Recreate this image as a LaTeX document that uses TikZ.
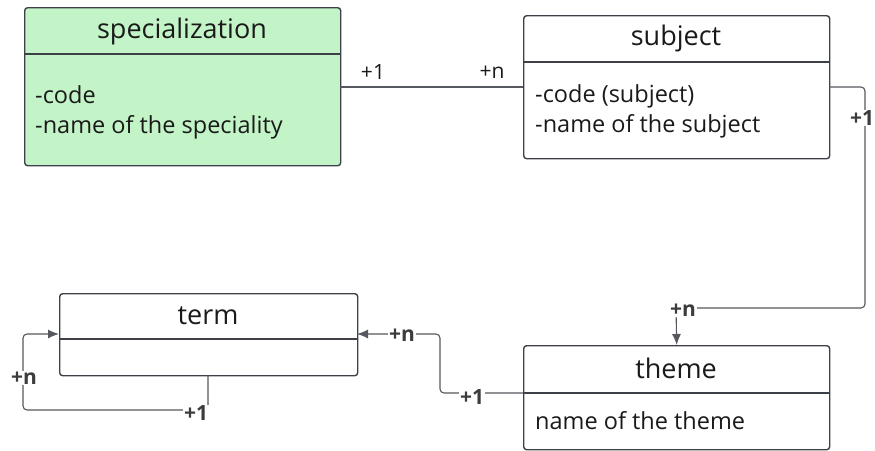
\documentclass[tikz,border=0pt]{standalone}
\usepackage{fontspec}
\setmainfont{Open Sans}
\usetikzlibrary{arrows.meta}
\definecolor{bordercol}{HTML}{3D4047}
\definecolor{linecol}{HTML}{55585E}
\definecolor{greenfill}{HTML}{C3F4C8}
\definecolor{txtcol}{HTML}{1A1A1A}
\tikzset{
  box/.style={draw=bordercol, line width=1.4pt, rounded corners=3pt, anchor=north west, inner sep=0pt},
  divider/.style={draw=bordercol, line width=1.4pt},
  head/.style={font=\fontsize{27}{30}\selectfont, text=txtcol, inner sep=0pt},
  body/.style={font=\fontsize{23.5}{30}\selectfont, text=txtcol, align=left, anchor=west, inner sep=0pt},
  conn/.style={draw=linecol, line width=1.1pt, rounded corners=4pt},
  arr/.style={-{Latex[length=11pt,width=9pt]}},
  lbl/.style={font=\fontsize{21}{24}\selectfont, text=txtcol, inner sep=1pt},
  blbl/.style={font=\fontsize{21}{24}\selectfont\bfseries, text=txtcol!85!white, fill=white, inner sep=1pt},
}
\begin{document}
\begin{tikzpicture}[x=1pt,y=-1pt]
\useasboundingbox (0,0) rectangle (875,450);
% specialization
\node[box, fill=greenfill, minimum width=316pt, minimum height=158pt] (spec) at (24,7) {};
\draw[divider] (24,54) -- (340,54);
\node[head] (spech) at (182,31) {specialization};
\node[body] (specb) at (35,112) {-code\\-name of the speciality};
% subject
\node[box, minimum width=306pt, minimum height=143pt] (subj) at (523,15) {};
\draw[divider] (523,62) -- (829,62);
\node[head] (subjh) at (676,38) {subject};
\node[body] (subjb) at (535,111) {-code (subject)\\-name of the subject};
% term
\node[box, minimum width=298pt, minimum height=82pt] (term) at (59,293) {};
\draw[divider] (59,339) -- (357,339);
\node[head] (termh) at (208,316) {term};
% theme
\node[box, minimum width=306pt, minimum height=104pt] (theme) at (523,345) {};
\draw[divider] (523,393) -- (829,393);
\node[head] (themeh) at (676,368) {theme};
\node[body] (themeb) at (535,421) {name of the theme};
% connector specialization - subject
\coordinate (c1) at (340,87);
\coordinate (c2) at (523,87);
\draw[conn] (c1) -- (c2);
\node[lbl] (l1) at (373,72) {+1};
\node[lbl] (l2) at (492,72) {+n};
% subject -> theme
\coordinate (s1) at (829,87);
\coordinate (s2) at (865,87);
\coordinate (s3) at (865,308);
\coordinate (s4) at (676,308);
\draw[conn, arr] (s1) -- (s2) -- (s3) -- (s4) -- (theme.north);
\node[blbl] (l3) at (862,118) {+1};
\node[blbl] (l4) at (683,310) {+n};
% theme -> term
\coordinate (t1) at (523,393);
\coordinate (t2) at (440,393);
\coordinate (t3) at (440,334);
\coordinate (t4) at (357,334);
\draw[conn, arr] (t1) -- (t2) -- (t3) -- (t4);
\node[blbl] (l5) at (472,397) {+1};
\node[blbl] (l6) at (402,335) {+n};
% self loop on term
\coordinate (r1) at (208,375);
\coordinate (r2) at (208,410);
\coordinate (r3) at (23,410);
\coordinate (r4) at (23,334);
\coordinate (r5) at (59,334);
\draw[conn, arr] (r1) -- (r2) -- (r3) -- (r4) -- (r5);
\node[blbl] (l7) at (196,413) {+1};
\node[blbl] (l8) at (24,378) {+n};
\end{tikzpicture}
\end{document}
